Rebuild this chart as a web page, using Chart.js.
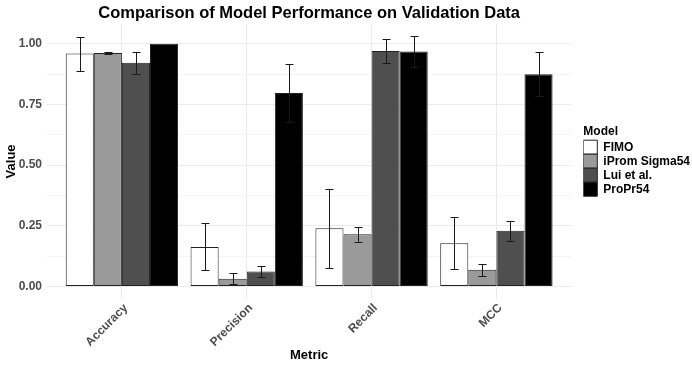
<!DOCTYPE html>
<html>
<head>
<meta charset="utf-8">
<script src="https://cdn.jsdelivr.net/npm/chart.js@4"></script>
<style>
  html, body { margin: 0; padding: 0; background: #fff; }
  #wrap { width: 692px; height: 366px; }
</style>
</head>
<body>
<div id="wrap"><canvas id="chart"></canvas></div>
<script>
// data
const metrics = ['Accuracy', 'Precision', 'Recall', 'MCC'];
const models = ['FIMO', 'iProm Sigma54', 'Lui et al.', 'ProPr54'];
const fimo = [0.960, 0.163, 0.240, 0.178];
const iprom = [0.962, 0.032, 0.215, 0.069];
const lui = [0.922, 0.062, 0.970, 0.230];
const propr = [1.000, 0.797, 0.968, 0.875];
// error bar half-widths
const fimoErr = [0.070, 0.097, 0.163, 0.108];
const ipromErr = [0.003, 0.023, 0.032, 0.025];
const luiErr = [0.045, 0.021, 0.050, 0.041];
const proprErr = [0.000, 0.121, 0.063, 0.090];
const yTicks = [0, 0.25, 0.5, 0.75, 1.0];

const fills = ['#ffffff', '#9a9a9a', '#4f4f4f', '#000000'];
const values = [fimo, iprom, lui, propr];
const errors = [fimoErr, ipromErr, luiErr, proprErr];

// draw error bars on top of every bar
const errorBars = {
  id: 'errorBars',
  afterDatasetsDraw(chart) {
    const ctx = chart.ctx;
    const y = chart.scales.y;
    ctx.save();
    ctx.strokeStyle = '#1a1a1a';
    ctx.lineWidth = 1;
    chart.data.datasets.forEach((ds, i) => {
      const meta = chart.getDatasetMeta(i);
      meta.data.forEach((bar, j) => {
        const v = ds.data[j].y;
        const e = ds.errors[j];
        if (!e) return;
        const top = Math.round(y.getPixelForValue(v + e)) + 0.5;
        const bot = Math.round(y.getPixelForValue(v - e)) + 0.5;
        const x = Math.round(bar.x) + 0.5;
        ctx.beginPath();
        ctx.moveTo(x, top); ctx.lineTo(x, bot);
        ctx.moveTo(x - 4, top); ctx.lineTo(x + 4, top);
        ctx.moveTo(x - 4, bot); ctx.lineTo(x + 4, bot);
        ctx.stroke();
      });
    });
    ctx.restore();
  }
};

// nudge the legend like ggplot places it
const legendShift = {
  id: 'legendShift',
  afterLayout(chart) {
    const lg = chart.legend;
    lg.top -= 22; lg.bottom -= 22;
    lg.left += 12; lg.right += 12;
  }
};

const font = 'Liberation Sans, Arial, sans-serif';

new Chart(document.getElementById('chart'), {
  type: 'bar',
  data: {
    datasets: models.map((m, i) => ({
      label: m,
      data: values[i].map((v, j) => ({ x: j + 1, y: v })),
      errors: errors[i],
      backgroundColor: fills[i],
      borderColor: '#222222',
      borderWidth: 1,
      borderSkipped: false,
      categoryPercentage: 0.9,
      barPercentage: 1.0
    }))
  },
  options: {
    responsive: true,
    maintainAspectRatio: false,
    animation: false,
    layout: { padding: { left: 4, right: 4, top: 0, bottom: 0 } },
    plugins: {
      title: {
        display: true,
        text: 'Comparison of Model Performance on Validation Data',
        fullSize: false,
        color: '#000',
        font: { family: font, size: 16.5, weight: 'bold' },
        padding: { top: 4, bottom: 0 }
      },
      legend: {
        position: 'right',
        title: {
          display: true,
          text: 'Model',
          position: 'start',
          color: '#000',
          font: { family: font, size: 12, weight: 'bold' },
          padding: { top: 0, bottom: 0 }
        },
        labels: {
          boxWidth: 14,
          boxHeight: 14,
          padding: 0,
          color: '#000',
          font: { family: font, size: 12, weight: 'bold' }
        }
      },
      tooltip: { enabled: false }
    },
    scales: {
      x: {
        type: 'linear',
        offset: false,
        min: 0.4,
        max: 4.6,
        afterBuildTicks: s => { s.ticks = metrics.map((m, i) => ({ value: i + 1 })); },
        afterFit: s => { s.height = 67; },
        grid: { color: '#ebebeb', drawTicks: false, offset: false },
        border: { display: false },
        ticks: {
          autoSkip: false,
          maxRotation: 45,
          minRotation: 45,
          padding: 2,
          labelOffset: 4,
          color: '#4d4d4d',
          font: { family: font, size: 12, weight: 'bold' },
          callback: v => metrics[v - 1]
        },
        title: {
          display: true,
          text: 'Metric',
          color: '#000',
          font: { family: font, size: 13, weight: 'bold' },
          padding: { top: 0, bottom: 3 }
        }
      },
      y: {
        min: -0.0516,
        max: 1.0826,
        afterBuildTicks: s => {
          const t = [];
          for (let k = 0; k <= 8; k++) t.push({ value: k * 0.125 });
          s.ticks = t;
        },
        afterFit: s => { s.width = 43; },
        grid: {
          drawTicks: false,
          color: c => (yTicks.includes(c.tick.value) ? '#ebebeb' : '#f4f4f4')
        },
        border: { display: false },
        ticks: {
          padding: 5,
          color: '#4d4d4d',
          font: { family: font, size: 12, weight: 'bold' },
          callback: v => (yTicks.includes(v) ? v.toFixed(2) : '')
        },
        title: {
          display: true,
          text: 'Value',
          color: '#000',
          font: { family: font, size: 13, weight: 'bold' },
          padding: { top: 0, bottom: 2 }
        }
      }
    }
  },
  plugins: [errorBars, legendShift]
});
</script>
</body>
</html>
